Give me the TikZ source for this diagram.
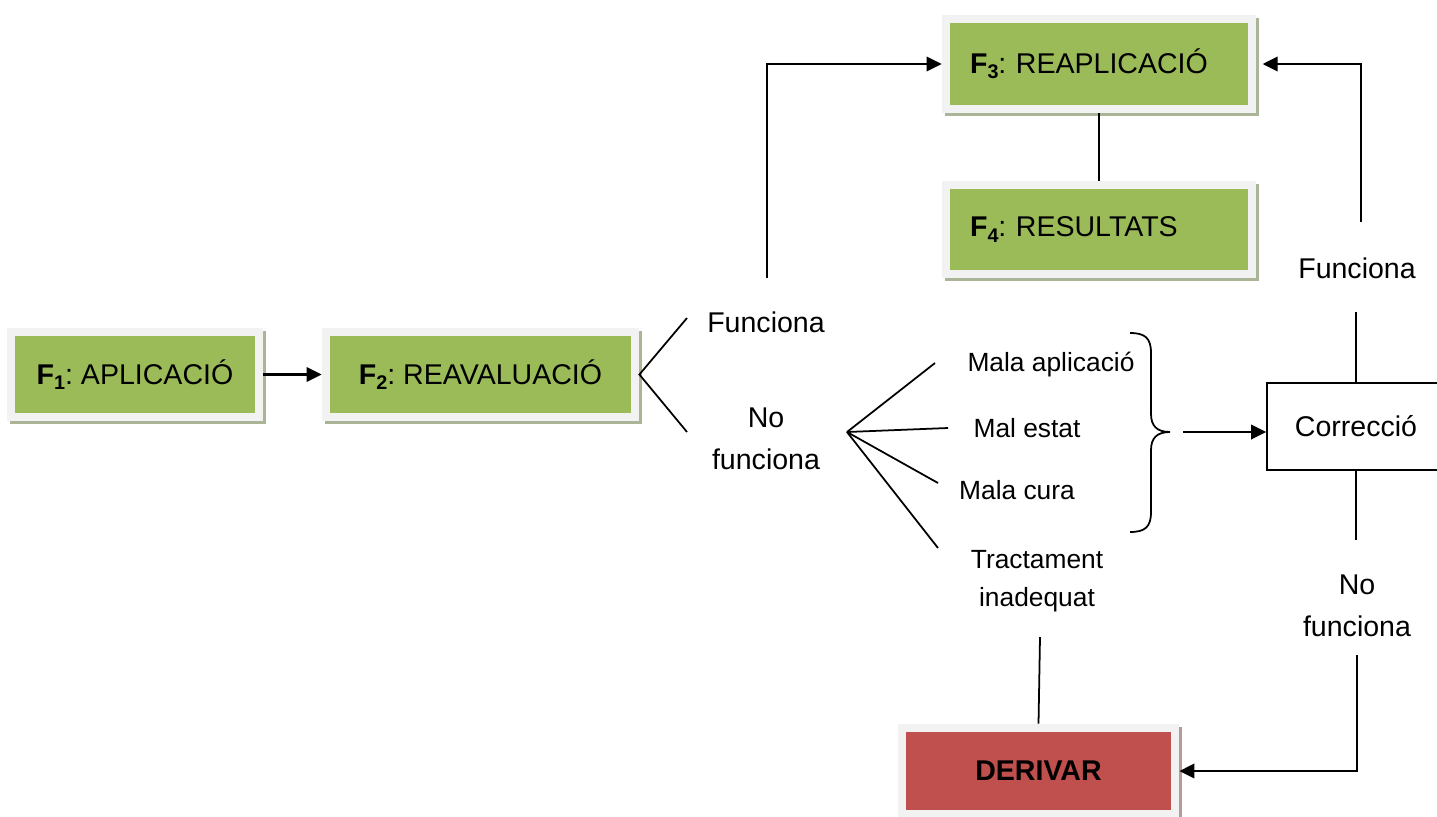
\documentclass[tikz,border=0pt]{standalone}
\usepackage{fontspec}
\setmainfont{Liberation Sans}
\usetikzlibrary{positioning, arrows.meta, shadows}
\definecolor{phasegreen}{HTML}{9BBB59}
\definecolor{phasered}{HTML}{C0504D}
\definecolor{framegray}{HTML}{F2F2F2}
\definecolor{shadegreen}{HTML}{A9B596}
\definecolor{shadered}{HTML}{B59C9B}
\newcommand{\phase}[1]{\textbf{F\raisebox{-0.35ex}{\fontsize{9}{9}\selectfont #1}}}
\frenchspacing

\begin{document}
\begin{tikzpicture}[x=0.016cm, y=-0.016cm,
  font=\fontsize{13}{15.6}\selectfont,
  phasebox/.style 2 args={fill=framegray, inner sep=0pt, minimum height=1.488cm,
    drop shadow={shadow xshift=0.048cm, shadow yshift=-0.048cm, fill=#2, opacity=1},
    path picture={\fill[#1] ([shift={(0.128cm,0.128cm)}]path picture bounding box.south west)
      rectangle ([shift={(-0.128cm,-0.128cm)}]path picture bounding box.north east);}},
  line/.style={line width=0.8pt},
  arrow/.style={line width=1.1pt, -{Triangle[length=0.24cm, width=0.23cm]}},
  cause/.style={font=\fontsize{12}{17.2}\selectfont},
  twoline/.style={align=center, font=\fontsize{13}{19}\selectfont}]
\useasboundingbox (0,0) rectangle (1437,816);

\node[phasebox={phasegreen}{shadegreen}, minimum width=4.096cm] (f1) at (135,374.5) {\phase{1}: APLICACIÓ};
\node[phasebox={phasegreen}{shadegreen}, minimum width=5.072cm] (f2) at (480.5,374.5) {\phase{2}: REAVALUACIÓ};
\node[phasebox={phasegreen}{shadegreen}, minimum width=5.024cm, minimum height=1.568cm,
  inner xsep=0.448cm, text width=4.128cm] (f3) at (1099,64) {\phase{3}: REAPLICACIÓ};
\node[phasebox={phasegreen}{shadegreen}, minimum width=5.024cm, minimum height=1.552cm,
  inner xsep=0.448cm, text width=4.128cm] (f4) at (1099,229.5) {\phase{4}: RESULTATS};
\node[phasebox={phasered}{shadered}, minimum width=4.496cm, minimum height=1.504cm] (der) at (1038.5,771) {\textbf{DERIVAR}};
\node[draw, line width=0.8pt, fill=white, minimum width=2.848cm, minimum height=1.392cm] (corr) at (1356,426.5) {Correcció};

\node (yes) at (766,322) {Funciona};
\node[twoline] (no) at (766,439) {No\\funciona};
\node[cause] (c1) at (1051,365) {Mala aplicació};
\node[cause] (c2) at (1027,428) {Mal estat};
\node[cause] (c3) at (1017,490) {Mala cura};
\node[cause, align=center] (c4) at (1037,581) {Tractament\\inadequat};
\node (yes2) at (1357,268) {Funciona};
\node[twoline] (no2) at (1357,606) {No\\funciona};

\coordinate (fa) at (687,318);
\coordinate (fb) at (687,432);
\coordinate (nf) at (847,432);
\coordinate (e1) at (935,363);
\coordinate (e2) at (948,428);
\coordinate (e3) at (938,483);
\coordinate (e4) at (938,548);
\coordinate (bx) at (1183,432);
\coordinate (cu) at (1356,312);
\coordinate (cd) at (1356,540);
\coordinate (ru) at (1361,222);
\coordinate (lu) at (767,278);
\coordinate (rd) at (1357,655);
\coordinate (td) at (1040,637);

\draw[arrow] (f1.east) -- (f2.west);
\draw[line] (fa) -- (f2.east) -- (fb);
\draw[line] (nf) -- (e1);
\draw[line] (nf) -- (e2);
\draw[line] (nf) -- (e3);
\draw[line] (nf) -- (e4);
% brace
\draw[line] (1130,333) .. controls (1145,333) and (1151,338) .. (1151,353) -- (1151,414)
  .. controls (1151,426) and (1157,432) .. (1170,432)
  .. controls (1157,432) and (1151,438) .. (1151,450) -- (1151,512)
  .. controls (1151,527) and (1145,532) .. (1130,532);
\draw[arrow] (bx) -- (bx -| corr.west);
\draw[line] (corr.north) -- (cu);
\draw[line] (corr.south) -- (cd);
\draw[arrow, shorten >=0.1cm] (ru) |- (f3.east);
\draw[arrow] (lu) |- (f3.west);
\draw[line] (f3.south) -- (f4.north);
\draw[arrow] (rd) |- (der.east);
\draw[line] (td) -- (der.north);

\end{tikzpicture}
\end{document}
